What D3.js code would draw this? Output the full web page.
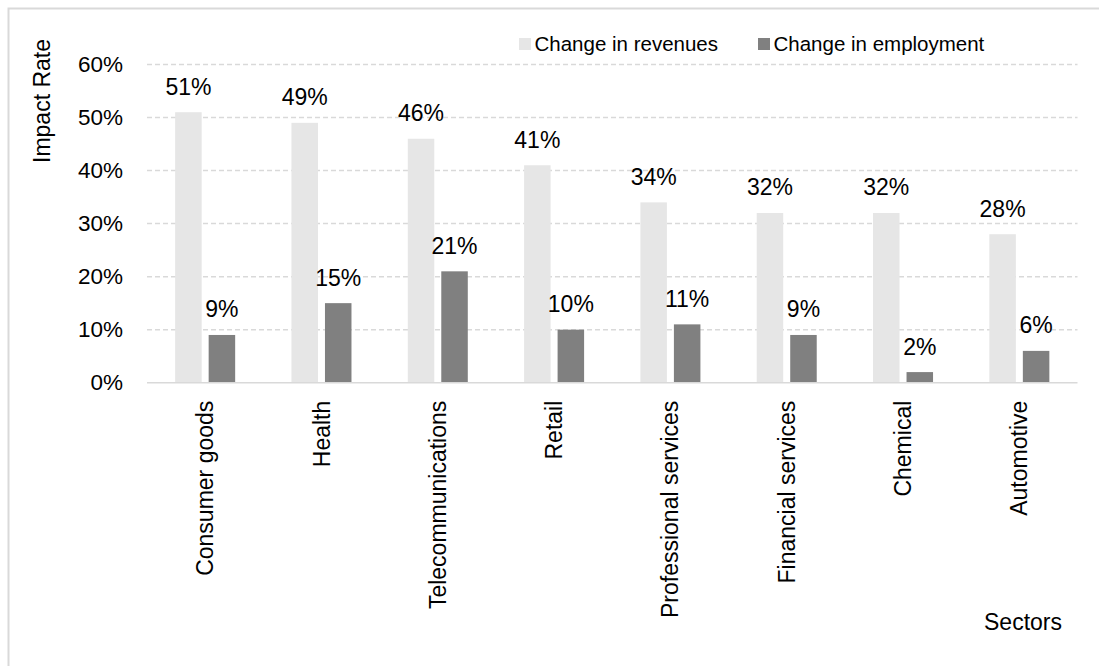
<!DOCTYPE html>
<html>
<head>
<meta charset="utf-8">
<script src="https://cdn.jsdelivr.net/npm/d3@7/dist/d3.min.js"></script>
<style>
  html, body { margin: 0; padding: 0; background: #fff; }
  svg { display: block; font-family: "Liberation Sans", Arial, sans-serif; }
</style>
</head>
<body>
<svg id="chart" width="1099" height="666"></svg>
<script>
// Sector impact data (percent)
const sectors = ["Consumer goods", "Health", "Telecommunications", "Retail",
  "Professional services", "Financial services", "Chemical", "Automotive"];
const revenues = [51, 49, 46, 41, 34, 32, 32, 28];
const employment = [9, 15, 21, 10, 11, 9, 2, 6];
const seriesNames = ["Change in revenues", "Change in employment"];
const seriesColors = ["#e6e6e6", "#808080"];
const yTicks = [0, 10, 20, 30, 40, 50, 60];

const svg = d3.select("#chart");

// Outer chart-area frame
svg.append("rect")
  .attr("x", 8.5).attr("y", 8.5)
  .attr("width", 1120).attr("height", 700)
  .attr("fill", "none")
  .attr("stroke", "#d9d9d9")
  .attr("stroke-width", 2);

const x0 = d3.scaleBand().domain(sectors).range([147, 1077.5]).padding(0);
const x1 = d3.scaleBand().domain(seriesNames)
  .range([0, x0.bandwidth()])
  .paddingInner(0.209).paddingOuter(0.84);
const y = d3.scaleLinear().domain([0, 60]).range([382.7, 64.5]);

// Dashed horizontal gridlines
svg.append("g").selectAll("line")
  .data(yTicks.filter(t => t > 0))
  .join("line")
  .attr("x1", x0.range()[0]).attr("x2", x0.range()[1])
  .attr("y1", d => y(d)).attr("y2", d => y(d))
  .attr("stroke", "#d9d9d9")
  .attr("stroke-width", 1.5)
  .attr("stroke-dasharray", "5,3");

// Y axis tick labels
const yAxis = d3.axisLeft(y).tickValues(yTicks).tickFormat(d => d + "%").tickSize(0).tickPadding(0);
const yg = svg.append("g").attr("transform", "translate(123,0)").call(yAxis);
yg.select(".domain").remove();
yg.selectAll("text")
  .attr("font-size", "22.5px")
  .attr("fill", "#000")
  .attr("font-family", "Liberation Sans, Arial, sans-serif");

// Bars
const rows = sectors.map((s, i) => ({ sector: s, values: [revenues[i], employment[i]] }));
const groups = svg.append("g").selectAll("g")
  .data(rows)
  .join("g")
  .attr("transform", d => `translate(${x0(d.sector)},0)`);

groups.selectAll("rect")
  .data(d => d.values.map((v, k) => ({ key: seriesNames[k], value: v, k })))
  .join("rect")
  .attr("x", d => x1(d.key))
  .attr("width", x1.bandwidth())
  .attr("y", d => y(d.value))
  .attr("height", d => y(0) - y(d.value))
  .attr("fill", d => seriesColors[d.k]);

// Value labels above bars
groups.selectAll("text")
  .data(d => d.values.map((v, k) => ({ key: seriesNames[k], value: v })))
  .join("text")
  .attr("x", d => x1(d.key) + x1.bandwidth() / 2)
  .attr("y", d => y(d.value) - 17.5)
  .attr("text-anchor", "middle")
  .attr("font-size", "23px")
  .attr("fill", "#000")
  .text(d => d.value + "%");

// Baseline
svg.append("line")
  .attr("x1", x0.range()[0]).attr("x2", x0.range()[1])
  .attr("y1", y(0)).attr("y2", y(0))
  .attr("stroke", "#d9d9d9")
  .attr("stroke-width", 1.5);

// Category labels, rotated
const xAxis = d3.axisBottom(x0).tickSize(0).tickPadding(0);
const xg = svg.append("g").attr("transform", `translate(0,${y(0)})`).call(xAxis);
xg.select(".domain").remove();
xg.selectAll("text")
  .attr("transform", "rotate(-90)")
  .attr("x", -18)
  .attr("y", 0)
  .attr("dy", "0.35em")
  .attr("text-anchor", "end")
  .attr("font-size", "23px")
  .attr("fill", "#000")
  .attr("font-family", "Liberation Sans, Arial, sans-serif");

// Axis titles
svg.append("text")
  .attr("transform", "translate(49.5,101) rotate(-90)")
  .attr("text-anchor", "middle")
  .attr("font-size", "23px")
  .attr("fill", "#000")
  .text("Impact Rate");

svg.append("text")
  .attr("x", 1062).attr("y", 630)
  .attr("text-anchor", "end")
  .attr("font-size", "23px")
  .attr("fill", "#000")
  .text("Sectors");

// Legend
const legendX = [519, 758];
const legend = svg.append("g").selectAll("g")
  .data(seriesNames)
  .join("g")
  .attr("transform", (d, i) => `translate(${legendX[i]},0)`);
legend.append("rect")
  .attr("x", 0).attr("y", 38)
  .attr("width", 12).attr("height", 12)
  .attr("fill", (d, i) => seriesColors[i]);
legend.append("text")
  .attr("x", 15.5).attr("y", 50.5)
  .attr("font-size", "20.5px")
  .attr("fill", "#000")
  .text(d => d);
</script>
</body>
</html>
